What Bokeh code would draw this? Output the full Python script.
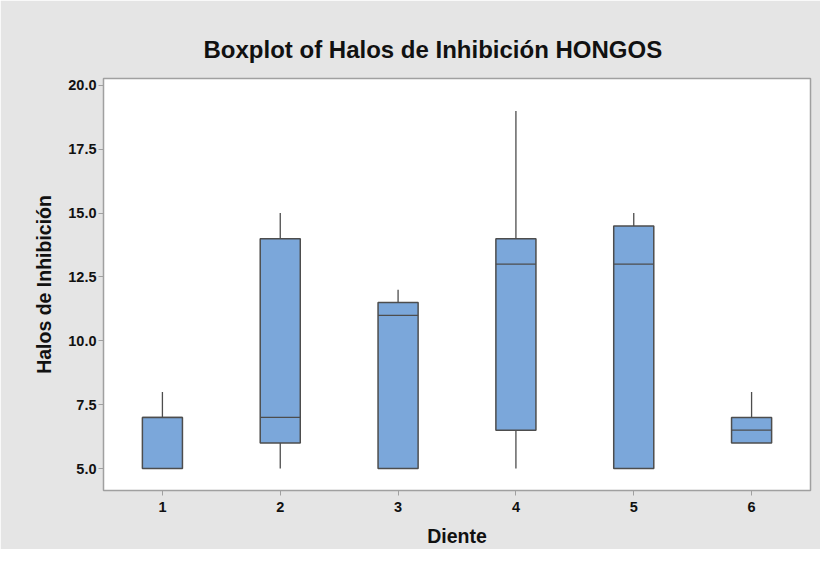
from bokeh.plotting import figure
from bokeh.models import FixedTicker, Range1d, ColumnDataSource, Title
from bokeh.transform import dodge
from bokeh.embed import file_html
from bokeh.resources import INLINE

dientes = [1, 2, 3, 4, 5, 6]
q_min = [5, 5, 5, 5, 5, 6]
q1 = [5, 6, 5, 6.5, 5, 6]
medians = [7, 7, 11, 13, 13, 6.5]
q3 = [7, 14, 11.5, 14, 14.5, 7]
q_max = [8, 15, 12, 19, 15, 8]
y_ticks = [5.0, 7.5, 10.0, 12.5, 15.0, 17.5, 20.0]

title_text = "Boxplot of Halos de Inhibición HONGOS"
x_label = "Diente"
y_label = "Halos de Inhibición"

FONT = "Liberation Sans"
BG = "#e5e5e5"
EDGE = "#4d4d4d"
FILL = "#7ba7da"
AXIS = "#a0a0a0"

src = ColumnDataSource(dict(x=dientes, lo=q_min, q1=q1, med=medians, q3=q3, hi=q_max))
bw = 0.34

p = figure(width=820, height=549, output_backend="svg", toolbar_location=None,
           x_range=Range1d(0.5, 6.5), y_range=Range1d(4.14, 20.27),
           min_border_left=103, min_border_right=10, min_border_top=78, min_border_bottom=58,
           background_fill_color="white", border_fill_color=BG)

p.title = None
t = Title(text=title_text, text_font=FONT, text_font_size="24px", text_font_style="bold",
          text_color="#111111", align="left", offset=100, standoff=32)
p.add_layout(t, "above")

p.segment(x0="x", y0="lo", x1="x", y1="q1", source=src, line_color=EDGE, line_width=1.3)
p.segment(x0="x", y0="q3", x1="x", y1="hi", source=src, line_color=EDGE, line_width=1.3)
p.vbar(x="x", width=bw, bottom="q1", top="q3", source=src, fill_color=FILL,
       line_color=EDGE, line_width=1.5)
p.segment(x0=dodge("x", -bw / 2, range=p.x_range), y0="med",
          x1=dodge("x", bw / 2, range=p.x_range), y1="med",
          source=src, line_color=EDGE, line_width=1.3)

p.xgrid.visible = False
p.ygrid.visible = False
p.outline_line_color = AXIS
p.outline_line_width = 1.5

p.xaxis.ticker = FixedTicker(ticks=dientes)
p.yaxis.ticker = FixedTicker(ticks=y_ticks)
p.yaxis.major_label_overrides = {v: f"{v:.1f}" for v in y_ticks}

for ax in (p.xaxis[0], p.yaxis[0]):
    ax.axis_line_color = AXIS
    ax.major_tick_line_color = AXIS
    ax.major_tick_in = 0
    ax.major_tick_out = 5
    ax.minor_tick_line_color = None
    ax.major_label_text_font = FONT
    ax.major_label_text_font_size = "14.5px"
    ax.major_label_text_font_style = "bold"
    ax.major_label_text_color = "#111111"
    ax.axis_label_text_font = FONT
    ax.axis_label_text_font_size = "19.5px"
    ax.axis_label_text_font_style = "bold"
    ax.axis_label_text_color = "#111111"

p.xaxis.axis_label = x_label
p.yaxis.axis_label = y_label
p.xaxis.major_label_standoff = 6
p.xaxis.axis_label_standoff = 10
p.yaxis.major_label_standoff = 2
p.yaxis.axis_label_standoff = 10

open("out.html", "w").write(file_html(p, INLINE))
